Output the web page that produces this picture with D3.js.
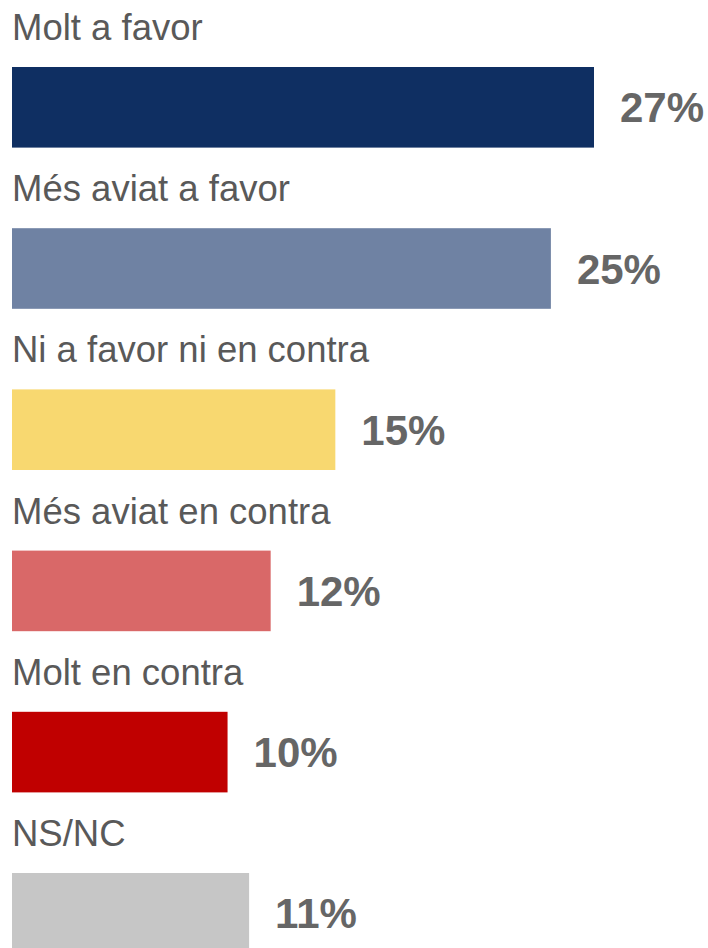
<!DOCTYPE html>
<html>
<head>
<meta charset="utf-8">
<script src="https://cdn.jsdelivr.net/npm/d3@7"></script>
<style>
html,body{margin:0;padding:0;background:#fff;}
svg{display:block;}
</style>
</head>
<body>
<script>
const categories = ["Molt a favor","Més aviat a favor","Ni a favor ni en contra","Més aviat en contra","Molt en contra","NS/NC"];
const values = [27,25,15,12,10,11];
const colors = ["#0f2f62","#6f82a3","#f8d870","#d96868","#c00000","#c6c6c6"];

const W = 708, H = 948;
const svg = d3.select("body").append("svg").attr("width", W).attr("height", H);

const x = d3.scaleLinear().domain([0, 27]).range([12, 594]);
const y = d3.scaleBand().domain(categories).range([67, 953.6]).paddingInner(0.5).paddingOuter(0);

const data = categories.map((c, i) => ({c, v: values[i], col: colors[i]}));

const g = svg.selectAll("g.row").data(data).join("g").attr("class","row");

g.append("rect")
  .attr("x", x(0))
  .attr("y", d => y(d.c))
  .attr("width", d => x(d.v) - x(0))
  .attr("height", y.bandwidth())
  .attr("fill", d => d.col);

g.append("text")
  .attr("x", x(0))
  .attr("y", d => y(d.c) - 27)
  .attr("font-family", "Liberation Sans, Arial, sans-serif")
  .attr("font-size", 36.5)
  .attr("fill", "#595959")
  .text(d => d.c);

g.append("text")
  .attr("x", d => x(d.v) + 26)
  .attr("y", d => y(d.c) + y.bandwidth()/2 + 15)
  .attr("font-family", "Liberation Sans, Arial, sans-serif")
  .attr("font-size", 42)
  .attr("font-weight", "bold")
  .attr("fill", "#666666")
  .text(d => d.v + "%");
</script>
</body>
</html>
